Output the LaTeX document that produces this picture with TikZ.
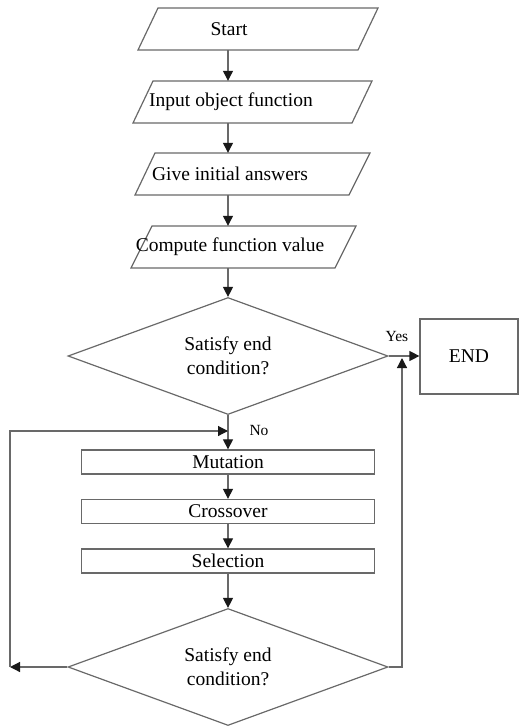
\documentclass[tikz,border=0pt]{standalone}
\usepackage{fontspec}
\setmainfont{Liberation Serif}
\newfontfamily\tnr{Liberation Serif}
\usetikzlibrary{shapes.geometric,arrows.meta}
\definecolor{ln}{RGB}{105,105,105}
\definecolor{tp}{RGB}{25,25,25}
\begin{document}
\begin{tikzpicture}[x=1pt,y=-1pt,
  every node/.style={font=\tnr\fontsize{19.5}{24}\selectfont, text=black},
  para/.style={draw=none, minimum width=150pt, minimum height=42pt, inner sep=0pt},
  procbox/.style={draw=ln, line width=1.3pt, minimum width=293pt, minimum height=24pt, inner sep=0pt},
  decbox/.style={draw=ln, line width=1.2pt, diamond, aspect=2.75, minimum width=320pt, minimum height=117pt, inner sep=0pt, align=center},
  endbox/.style={draw=ln, line width=1.2pt, minimum width=98pt, minimum height=75pt, inner sep=0pt},
  shp/.style={draw=ln, line width=1.2pt},
  arr/.style={draw=ln, line width=1.2pt, -{Triangle[length=10pt,width=10pt,color=tp]}},
  lbl/.style={font=\tnr\fontsize{15.5}{18}\selectfont}
]
\useasboundingbox (0,0) rectangle (532,726);

% parallelograms
\draw[shp] (138,50) -- (158,8) -- (378,8) -- (358,50) -- cycle;
\draw[shp] (133,123) -- (153,81) -- (372,81) -- (352,123) -- cycle;
\draw[shp] (135,195) -- (155,153) -- (370,153) -- (349,195) -- cycle;
\draw[shp] (131,268) -- (152,226) -- (356,226) -- (335,268) -- cycle;

\node[para] (s1) at (229,29) {Start};
\node[para] (s2) at (231,102) {Input object function};
\node[para] (s3) at (230,174) {Give initial answers};
\node[para] (s4) at (230,247) {Compute function value};

\node[decbox] (d1) at (228,356) {Satisfy end\\condition?};
\node[endbox] (e) at (469,356.5) {END};

\node[procbox] (m) at (228,462) {Mutation};
\node[procbox] (c) at (228,511.5) {Crossover};
\node[procbox] (s) at (228,561) {Selection};

\node[decbox] (d2) at (228,667) {Satisfy end\\condition?};

\coordinate (j) at (402,358);
\coordinate (lft) at (10,667);
\coordinate (mj) at (228,431);

\draw[arr] (s1.south -| d1.north) -- (s2.north -| d1.north);
\draw[arr] (s2.south -| d1.north) -- (s3.north -| d1.north);
\draw[arr] (s3.south -| d1.north) -- (s4.north -| d1.north);
\draw[arr] (s4.south -| d1.north) -- (d1.north);
\draw[arr] (d1.east) -- (e.west |- d1.east);
\draw[arr] (d1.south) -- (m.north);
\draw[arr] (m) -- (c);
\draw[arr] (c) -- (s);
\draw[arr] (s) -- (d2);
\draw[arr] (d2.east) -| (j);
\draw[arr] (d2.west) -- (lft);
\draw[arr] (lft) |- (mj);

\node[lbl] (yes) at (397,336) {Yes};
\node[lbl] (no) at (259,430) {No};
\end{tikzpicture}
\end{document}
